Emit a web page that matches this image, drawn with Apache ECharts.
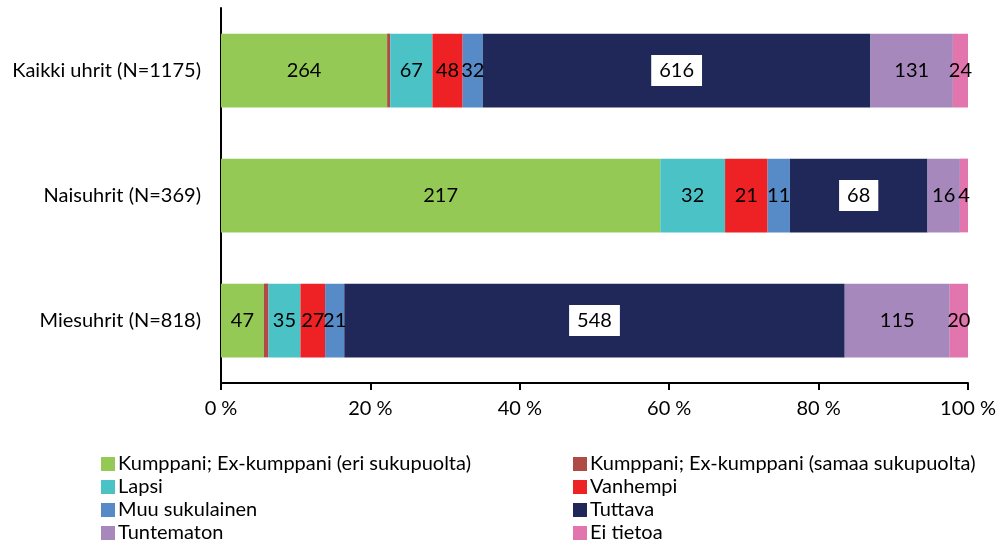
<!DOCTYPE html>
<html>
<head>
<meta charset="utf-8">
<script src="https://cdn.jsdelivr.net/npm/echarts@6/dist/echarts.min.js"></script>
<style>
  html, body { margin: 0; padding: 0; background: #fff; }
  #main { width: 1000px; height: 551px; }
</style>
</head>
<body>
<div id="main"></div>
<script>
// ryhmät (ylhäältä alas)
var categories = ['Kaikki uhrit (N=1175)', 'Naisuhrit (N=369)', 'Miesuhrit (N=818)'];

var seriesNames = [
  'Kumppani; Ex-kumppani (eri sukupuolta)',
  'Kumppani; Ex-kumppani (samaa sukupuolta)',
  'Lapsi',
  'Vanhempi',
  'Muu sukulainen',
  'Tuttava',
  'Tuntematon',
  'Ei tietoa'
];

// lukumäärät per ryhmä
var eriSukupuolta   = [264, 217, 47];
var samaaSukupuolta = [5, 0, 5];
var lapsi           = [67, 32, 35];
var vanhempi        = [48, 21, 27];
var muuSukulainen   = [32, 11, 21];
var tuttava         = [616, 68, 548];
var tuntematon      = [131, 16, 115];
var eiTietoa        = [24, 4, 20];

var xTicks = [0, 20, 40, 60, 80, 100];

var counts = [eriSukupuolta, samaaSukupuolta, lapsi, vanhempi, muuSukulainen, tuttava, tuntematon, eiTietoa];
var colors = ['#95c955', '#b04a46', '#4bc3c6', '#ee2124', '#578bc8', '#20285a', '#a688bd', '#e274ae'];

var totals = categories.map(function (c, i) {
  var s = 0;
  counts.forEach(function (arr) { s += arr[i]; });
  return s;
});

var FONT = 'Lato';
var myChart = echarts.init(document.getElementById('main'));

var series = counts.map(function (arr, k) {
  return {
    name: seriesNames[k],
    type: 'bar',
    stack: 'all',
    barCategoryGap: '41%',
    itemStyle: { color: colors[k] },
    label: {
      show: k !== 1,
      position: 'inside',
      color: '#000',
      fontFamily: FONT,
      fontSize: 20,
      backgroundColor: k === 5 ? '#fff' : 'transparent',
      padding: k === 5 ? [6, 8, 5, 8] : 0,
      formatter: function (p) { return arr[p.dataIndex]; }
    },
    data: arr.map(function (v, i) { return v / totals[i] * 100; })
  };
});

var legendLeft = [seriesNames[0], seriesNames[2], seriesNames[4], seriesNames[6]];
var legendRight = [seriesNames[1], seriesNames[3], seriesNames[5], seriesNames[7]];
function legendCfg(names, left) {
  return {
    data: names,
    orient: 'vertical',
    left: left,
    top: 449,
    height: 100,
    itemWidth: 14,
    itemHeight: 14,
    itemGap: 3,
    icon: 'rect',
    textStyle: { fontFamily: FONT, fontSize: 20, color: '#000', padding: [0, 0, 0, -2] }
  };
}

myChart.setOption({
  animation: false,
  grid: { left: 221, right: 32, top: 8, bottom: 168, containLabel: false },
  legend: [legendCfg(legendLeft, 96), legendCfg(legendRight, 568)],
  xAxis: {
    type: 'value',
    min: 0,
    max: 100,
    interval: 20,
    axisLine: { show: true, lineStyle: { color: '#000', width: 2 } },
    axisTick: { show: true, length: 7, lineStyle: { color: '#000', width: 2 } },
    splitLine: { show: false },
    axisLabel: {
      color: '#000', fontFamily: FONT, fontSize: 20, margin: 16,
      formatter: function (v) { return xTicks.indexOf(v) >= 0 ? v + ' %' : ''; }
    }
  },
  yAxis: {
    type: 'category',
    inverse: true,
    data: categories,
    axisLine: { show: true, lineStyle: { color: '#000', width: 2 } },
    axisTick: { show: false },
    axisLabel: { color: '#000', fontFamily: FONT, fontSize: 20, margin: 20 }
  },
  series: series
});
</script>
</body>
</html>
